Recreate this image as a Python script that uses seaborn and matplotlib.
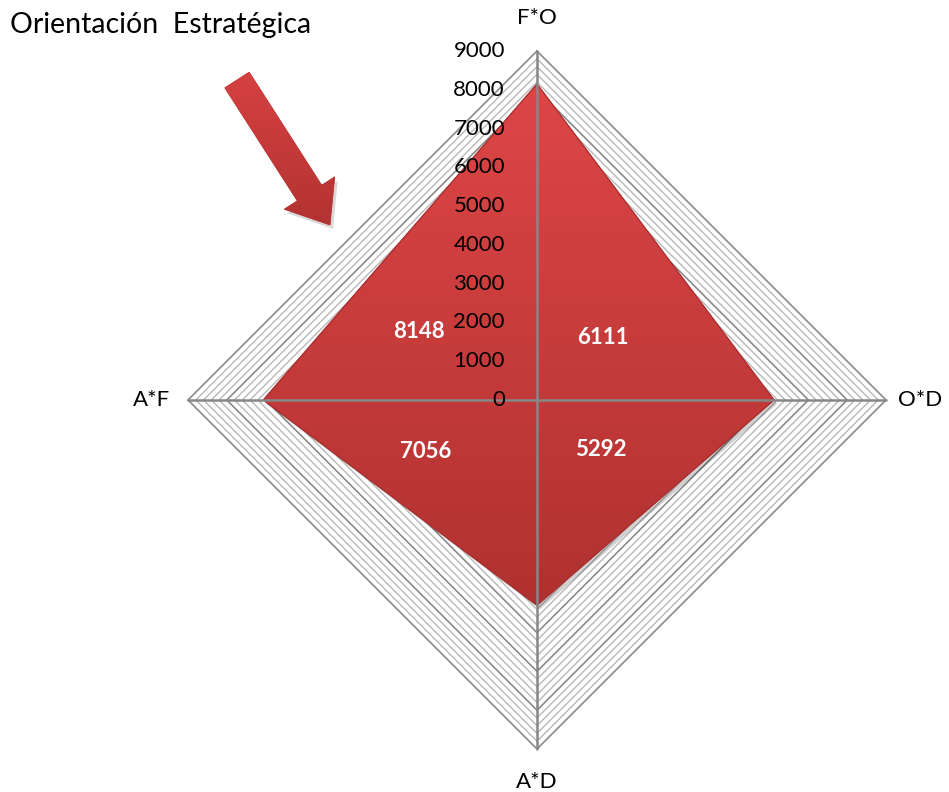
import numpy as np
import pandas as pd
import matplotlib
matplotlib.use("Agg")
import matplotlib.pyplot as plt
import seaborn as sns
from matplotlib.patches import Polygon, FancyArrow
from matplotlib.colors import LinearSegmentedColormap

# ---------------- data ----------------
categories = ["F*O", "O*D", "A*D", "A*F"]
values = [8148, 6111, 5292, 7056]
tick_values = [0, 1000, 2000, 3000, 4000, 5000, 6000, 7000, 8000, 9000]
minor_step = 200
r_max = 9000
title = "Orientación  Estratégica"

sns.set_theme(style="white")
plt.rcParams["font.family"] = ["Lato", "DejaVu Sans"]

W, H, DPI = 949, 792, 100
fig = plt.figure(figsize=(W / DPI, H / DPI), dpi=DPI)
ax = fig.add_axes([0, 0, 1, 1])

# layout: centre pixel and radius (pixels) of the outer ring
cx_px, cy_px, R_px = 537, 400, 349
s = r_max / R_px  # data units per pixel
ax.set_xlim(-cx_px * s, (W - cx_px) * s)
ax.set_ylim(-(H - cy_px) * s, cy_px * s)
ax.set_aspect("equal")
ax.axis("off")

n = len(categories)
# angle measured clockwise from top
angles = np.arange(n) * 2 * np.pi / n


def xy(r, th):
    return r * np.sin(th), r * np.cos(th)


# ---- grid (diamond rings) ----
ring_levels = np.arange(0, r_max + 1, minor_step)
for lv in ring_levels[1:]:
    th = np.append(angles, angles[0])
    gx, gy = xy(lv, th)
    major = lv % 1000 == 0
    ax.plot(gx, gy, color="#8a8a8a" if major else "#b8b8b8",
            lw=1.2 if major else 1.0, zorder=1, solid_joinstyle="miter")

# ---- data polygon ----
th = np.append(angles, angles[0])
vals = np.append(values, values[0])
px, py = xy(vals, th)
# soft shadow
shadow = Polygon(np.column_stack([px + 3 * s, py - 4 * s]), closed=True,
                 facecolor="#000000", alpha=0.18, edgecolor="none", zorder=2)
ax.add_patch(shadow)
poly = Polygon(np.column_stack([px, py]), closed=True, facecolor="#c63a3a",
               edgecolor="#b83636", lw=1.0, zorder=3)
ax.add_patch(poly)
cmap = LinearSegmentedColormap.from_list("redgrad", ["#de4646", "#b03131"])
grad = np.linspace(0, 1, 256).reshape(-1, 1)
im = ax.imshow(grad, cmap=cmap, aspect="auto",
               extent=[px.min(), px.max(), py.min(), py.max()],
               origin="upper", zorder=3.5)
im.set_clip_path(poly)
df_poly = pd.DataFrame({"x": px, "y": py})
sns.lineplot(data=df_poly, x="x", y="y", sort=False, estimator=None,
             color="#a83030", lw=0.8, ax=ax, zorder=3.6)
ax.set_xlim(-cx_px * s, (W - cx_px) * s)
ax.set_ylim(-(H - cy_px) * s, cy_px * s)

# ---- spokes ----
for a in angles:
    sx, sy = xy(np.array([0, r_max]), a)
    ax.plot(sx, sy, color="#878787", lw=1.8, zorder=4)

# ---- radial tick labels ----
for t in tick_values:
    ax.text(-32 * s, t, f"{t}", ha="right", va="center", fontsize=16,
            color="black", zorder=6)

# ---- category labels ----
offs = [(0, 33), (12, 0), (0, -33), (-18, 0)]
has = ["center", "left", "center", "right"]
for c, a, (ox, oy), ha in zip(categories, angles, offs, has):
    lx, ly = xy(r_max, a)
    ax.text(lx + ox * s, ly + oy * s, c, ha=ha, va="center", fontsize=16,
            color="black", zorder=6)

# ---- data labels (pixel offsets from the centre) ----
lab_off = [(-118, 68), (66, 63), (64, -50), (-111, -51)]
for v, (ox, oy) in zip(values, lab_off):
    ax.text(ox * s, oy * s, f"{v}", ha="center", va="center", fontsize=16,
            fontweight="bold", color="white", zorder=6)

# ---- title ----
fig.text(10 / W, 1 - 25 / H, title, ha="left", va="center", fontsize=20.5,
         color="black")

# ---- decorative arrow ----
tail = ((237 - cx_px) * s, (cy_px - 80) * s)
d = (93 * s, -145 * s)
arr_sh = FancyArrow(tail[0] + 3 * s, tail[1] - 4 * s, d[0], d[1], width=29 * s,
                    head_width=60 * s, head_length=38 * s,
                    length_includes_head=True, facecolor="black", alpha=0.15,
                    edgecolor="none", zorder=4)
ax.add_patch(arr_sh)
arr = FancyArrow(tail[0], tail[1], d[0], d[1], width=29 * s, head_width=60 * s,
                 head_length=38 * s, length_includes_head=True,
                 facecolor="#c63a3a", edgecolor="#b83434", lw=0.6, zorder=5)
ax.add_patch(arr)
ext = arr.get_path().vertices
cmap2 = LinearSegmentedColormap.from_list("redgrad2", ["#d64141", "#b33232"])
im2 = ax.imshow(grad, cmap=cmap2, aspect="auto",
                extent=[ext[:, 0].min(), ext[:, 0].max(),
                        ext[:, 1].min(), ext[:, 1].max()],
                origin="upper", zorder=5.5)
im2.set_clip_path(arr)
ax.set_xlim(-cx_px * s, (W - cx_px) * s)
ax.set_ylim(-(H - cy_px) * s, cy_px * s)

fig.savefig("out.png", dpi=DPI, facecolor="white")
